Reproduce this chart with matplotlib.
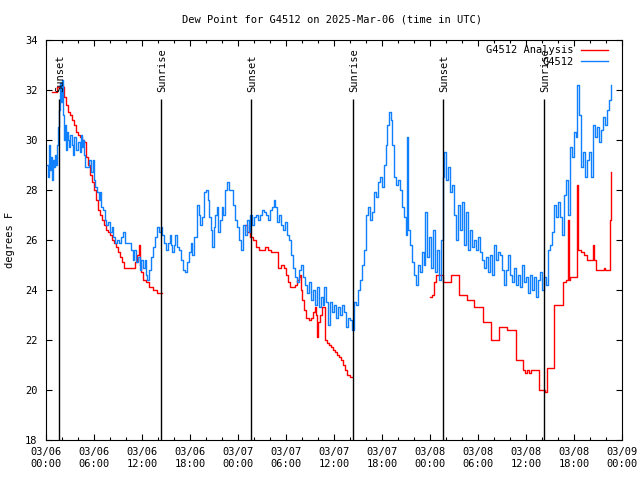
import numpy as np
import matplotlib
matplotlib.use('Agg')
import matplotlib.pyplot as plt
from matplotlib.ticker import FixedLocator, MultipleLocator

# station dew point (hours since 03/06 00:00 UTC, deg F)
blue_hours = [0.12, 0.25, 0.37, 0.5, 0.62, 0.75, 0.87, 1.0, 1.12, 1.25, 1.37, 1.5, 1.62, 1.75, 1.87, 2.0,
              2.12, 2.25, 2.37, 2.5, 2.62, 2.75, 2.87, 3.0, 3.25, 3.37, 3.5, 3.75, 4.0, 4.25, 4.37, 4.5,
              4.62, 4.75, 4.87, 5.12, 5.37, 5.62, 5.87, 6.0, 6.12, 6.37, 6.62, 6.75, 6.87, 7.12, 7.37, 7.5,
              7.75, 8.0, 8.25, 8.37, 8.62, 8.87, 9.12, 9.37, 9.62, 9.87, 10.12, 10.37, 10.62, 10.87, 11.0,
              11.25, 11.5, 11.75, 11.87, 12.12, 12.37, 12.5, 12.62, 12.87, 13.12, 13.37, 13.62, 13.87,
              14.12, 14.37, 14.5, 14.75, 15.0, 15.25, 15.5, 15.62, 15.75, 16.0, 16.12, 16.37, 16.62, 16.87,
              17.12, 17.37, 17.62, 17.87, 18.12, 18.25, 18.5, 18.75, 18.87, 19.12, 19.25, 19.5, 19.75, 20.0,
              20.25, 20.37, 20.62, 20.75, 21.0, 21.12, 21.37, 21.5, 21.75, 22.0, 22.12, 22.37, 22.62, 22.87,
              23.12, 23.37, 23.62, 23.87, 24.12, 24.37, 24.62, 24.87, 25.12, 25.37, 25.5, 25.75, 26.0, 26.25,
              26.5, 26.75, 27.0, 27.25, 27.5, 27.75, 28.0, 28.25, 28.5, 28.62, 28.87, 29.12, 29.37, 29.62,
              29.87, 30.12, 30.37, 30.62, 30.87, 31.12, 31.37, 31.62, 31.87, 32.12, 32.37, 32.62, 32.87,
              33.12, 33.37, 33.62, 33.87, 34.12, 34.37, 34.62, 34.75, 35.0, 35.25, 35.5, 35.75, 36.0, 36.25,
              36.5, 36.75, 37.0, 37.25, 37.5, 37.75, 38.0, 38.25, 38.5, 38.75, 39.0, 39.25, 39.5, 39.75,
              40.0, 40.25, 40.5, 40.75, 41.0, 41.25, 41.5, 41.75, 42.0, 42.25, 42.5, 42.62, 42.87, 43.12,
              43.25, 43.5, 43.75, 44.0, 44.25, 44.5, 44.75, 45.0, 45.12, 45.25, 45.5, 45.75, 46.0, 46.25,
              46.5, 46.75, 47.0, 47.25, 47.37, 47.62, 47.87, 48.12, 48.37, 48.62, 48.87, 49.12, 49.37, 49.62,
              49.75, 50.0, 50.25, 50.5, 50.75, 51.0, 51.25, 51.5, 51.75, 52.0, 52.25, 52.5, 52.75, 53.0,
              53.25, 53.5, 53.75, 54.0, 54.25, 54.5, 54.75, 55.0, 55.25, 55.5, 55.75, 56.0, 56.25, 56.5,
              56.75, 57.0, 57.25, 57.5, 57.75, 58.0, 58.25, 58.5, 58.75, 59.0, 59.25, 59.5, 59.75, 60.0,
              60.25, 60.5, 60.75, 61.0, 61.25, 61.5, 61.75, 62.0, 62.25, 62.5, 62.75, 63.0, 63.25, 63.5,
              63.75, 64.0, 64.25, 64.5, 64.75, 65.0, 65.25, 65.5, 65.75, 66.0, 66.25, 66.37, 66.62, 66.87,
              67.12, 67.37, 67.62, 67.87, 68.12, 68.37, 68.62, 68.87, 69.12, 69.37, 69.62, 69.87, 70.12,
              70.37, 70.62]
blue_vals = [29.0, 28.5, 29.8, 28.8, 29.3, 28.4, 29.2, 28.9, 29.4, 29.0, 29.8, 30.5, 31.2, 32.3, 31.5, 32.4,
             31.0, 30.0, 30.6, 29.6, 30.3, 30.0, 29.7, 30.2, 29.8, 29.4, 30.1, 29.6, 29.9, 29.5, 30.2, 29.7,
             30.0, 29.4, 28.9, 28.9, 29.2, 28.7, 29.2, 28.4, 28.1, 27.9, 27.6, 27.9, 27.3, 27.2, 26.8, 26.6,
             26.7, 26.3, 26.5, 26.1, 25.9, 26.0, 25.9, 26.1, 26.3, 25.9, 25.9, 25.9, 25.6, 25.2, 25.6,
             25.1, 25.3, 24.8, 25.2, 24.9, 25.2, 24.6, 24.4, 24.8, 25.3, 25.7, 26.1, 26.5,
             26.3, 26.5, 26.2, 25.9, 25.6, 25.9, 26.2, 25.8, 25.5, 25.8, 26.2, 25.7, 25.6, 25.2,
             24.8, 24.7, 25.1, 25.5, 25.9, 25.4, 26.1, 26.1, 27.4, 27.0, 26.6, 26.9, 27.9, 28.0,
             27.6, 26.9, 26.4, 25.7, 26.5, 27.0, 27.3, 26.3, 26.8, 27.3, 27.0, 28.0, 28.3, 28.0,
             28.0, 27.4, 26.8, 26.5, 26.0, 25.6, 26.6, 26.2, 26.8, 26.3, 27.0, 26.6, 26.9, 27.0,
             26.8, 27.0, 27.2, 27.1, 27.0, 26.8, 27.2, 27.3, 27.6, 27.3, 26.7, 27.0, 26.6, 26.4,
             26.7, 26.2, 26.0, 25.4, 24.9, 24.5, 24.3, 24.8, 25.0, 24.5, 24.2, 23.9, 24.3,
             23.6, 24.0, 23.4, 24.1, 23.3, 23.7, 23.4, 24.1, 23.5, 22.6, 23.5, 23.1, 23.4, 22.9,
             23.3, 23.0, 23.4, 23.1, 22.5, 22.9, 22.8, 22.4, 23.5, 23.4, 24.0, 24.4, 25.0, 25.6,
             27.0, 27.3, 26.8, 27.1, 27.9, 27.7, 28.3, 28.5, 28.1, 29.0, 29.8, 30.6, 31.1, 30.8,
             29.8, 28.5, 28.2, 28.4, 28.0, 27.3, 26.9, 26.2, 30.1, 26.4, 25.8, 25.1, 24.6, 24.2,
             25.0, 24.7, 25.5, 25.0, 27.1, 25.3, 26.1, 24.9, 26.4, 24.7, 25.6, 24.4, 26.0, 28.5,
             29.5, 28.4, 28.9, 27.9, 28.2, 27.0, 26.0, 27.4, 26.4, 27.5, 25.8, 27.1, 25.6, 26.4,
             25.7, 26.0, 25.6, 26.1, 25.5, 25.2, 24.9, 25.3, 24.7, 25.4, 24.6, 25.8, 25.2, 25.5,
             25.4, 24.8, 24.2, 24.8, 25.4, 24.6, 24.3, 24.9, 24.2, 24.6, 24.1, 25.0, 24.3, 24.5,
             23.9, 24.6, 24.0, 24.5, 23.7, 24.4, 24.7, 24.0, 24.5, 24.2, 25.6, 25.8, 26.3, 27.4,
             26.9, 27.5, 26.9, 26.2, 27.8, 28.4, 27.0, 29.7, 29.3, 30.3, 30.1, 32.2, 31.0, 28.9,
             29.5, 28.5, 29.2, 29.5, 28.5, 30.6, 30.1, 30.5, 29.9, 30.4, 30.9, 30.6, 31.2,
             31.6, 32.2]

# analysis dew point, nan = no data
red_hours = [0.75, 1.12, 1.37, 1.75, 2.12, 2.25, 2.5, 2.75, 3.0, 3.25, 3.5, 3.75, 4.0, 4.25, 4.5, 4.75,
             4.87, 5.0, 5.25, 5.5, 5.75, 6.0, 6.25, 6.5, 6.75, 7.0, 7.25, 7.5, 7.75, 8.0, 8.25, 8.5, 8.75,
             9.0, 9.25, 9.5, 9.75, 10.87, 11.12, 11.37, 11.62, 11.75, 11.87, 12.12, 12.5, 12.87, 13.37,
             13.87, 14.25, 14.5,
             24.87, 25.12, 25.5, 25.87, 26.25, 26.62, 27.0, 27.37, 27.75, 28.12, 28.75, 29.0, 29.37, 29.75,
             30.0, 30.25, 30.5, 30.87, 31.12, 31.37, 31.62, 31.75, 31.87, 32.0, 32.25, 32.5, 32.87, 33.12,
             33.37, 33.62, 33.75, 33.87, 34.0, 34.25, 34.5, 34.75, 34.87, 35.12, 35.37, 35.62, 35.87, 36.12,
             36.37, 36.62, 36.87, 37.12, 37.37, 37.62, 38.0, 38.25,
             48.0, 48.25, 48.5, 48.75, 49.62, 50.62, 51.62, 52.62, 53.5, 54.62, 55.62, 56.62, 57.62, 58.75,
             59.62, 59.87, 60.12, 60.37, 60.62, 61.62, 62.37, 62.62, 63.5, 64.62, 65.0, 65.25, 65.37, 65.5,
             66.25, 66.37, 66.5, 66.87, 67.25, 67.62, 68.37, 68.5, 68.75, 69.75, 69.87, 70.5, 70.62]
red_vals = [31.9, 31.9, 32.1, 32.2, 32.1, 31.7, 31.4, 31.1, 31.0, 30.8, 30.6, 30.3, 30.2, 30.1, 30.0, 29.9,
            29.9, 29.3, 29.0, 28.6, 28.3, 28.0, 27.6, 27.2, 27.0, 26.8, 26.6, 26.4, 26.3, 26.2, 26.0, 25.9, 25.7,
            25.5, 25.3, 25.1, 24.9, 24.9, 25.1, 25.4, 25.8, 25.0, 24.7, 24.4, 24.3, 24.1, 24.0,
            23.9, 23.9, np.nan,
            26.6, 26.3, 26.1, 26.0, 25.7, 25.6, 25.6, 25.7, 25.6, 25.5, 25.5, 24.9, 25.0, 24.9,
            24.6, 24.3, 24.1, 24.1, 24.2, 24.4, 24.5, 24.6, 24.0, 23.6, 23.2, 22.9, 22.8, 22.9,
            23.1, 23.3, 23.0, 22.1, 22.7, 23.0, 23.3, 23.3, 22.0, 21.9, 21.8, 21.7, 21.6, 21.5,
            21.4, 21.3, 21.2, 21.0, 20.8, 20.6, 20.5, np.nan,
            23.7, 23.8, 24.3, 24.6, 24.3, 24.6, 23.8, 23.6, 23.3, 22.7, 22.0, 22.5, 22.4, 21.2,
            20.8, 20.7, 20.8, 20.7, 20.8, 20.0, 19.9, 20.9, 23.4, 24.3, 24.4, 26.8, 24.4, 24.5,
            24.5, 28.2, 25.6, 25.5, 25.4, 25.2, 25.8, 25.2, 24.8, 24.9, 24.8, 26.8, 28.7]

sun_hours = [1.62, 14.37, 25.62, 38.37, 49.62, 62.25]
sun_labels = ['Sunset', 'Sunrise', 'Sunset', 'Sunrise', 'Sunset', 'Sunrise']

tick_hours = [0, 6, 12, 18, 24, 30, 36, 42, 48, 54, 60, 66, 72]
tick_labels = ['03/06\n00:00', '03/06\n06:00', '03/06\n12:00', '03/06\n18:00',
               '03/07\n00:00', '03/07\n06:00', '03/07\n12:00', '03/07\n18:00',
               '03/08\n00:00', '03/08\n06:00', '03/08\n12:00', '03/08\n18:00', '03/09\n00:00']

plt.rcParams['font.family'] = 'DejaVu Sans Mono'
plt.rcParams['font.size'] = 7.5

fig = plt.figure(figsize=(6.4, 4.8), dpi=100)
ax = fig.add_axes([46/640, 40/480, 576/640, 400/480])

ax.plot(red_hours, red_vals, color='#ff0000', lw=1.0, drawstyle='steps-post', label='G4512 Analysis')
ax.plot(blue_hours, blue_vals, color='#1080ff', lw=1.0, drawstyle='steps-post', label='G4512')

for h, lab in zip(sun_hours, sun_labels):
    ax.vlines(h, 18, 31.64, color='black', lw=1.0)
    ax.text(h + 0.15, 31.9, lab, rotation=90, ha='center', va='bottom', fontsize=7.5)

ax.set_xlim(0, 72)
ax.set_ylim(18, 34)
ax.xaxis.set_major_locator(FixedLocator(tick_hours))
ax.set_xticklabels(tick_labels)
ax.xaxis.set_minor_locator(MultipleLocator(2))
ax.yaxis.set_major_locator(MultipleLocator(2))
ax.tick_params(which='both', direction='in', top=True, right=True)
ax.tick_params(which='major', length=4.5, width=0.8, pad=5)
ax.tick_params(which='minor', length=2.5, width=0.8)
ax.tick_params(axis='y', pad=6)
for s in ax.spines.values():
    s.set_linewidth(0.8)

ax.legend(loc='upper right', bbox_to_anchor=(0.985, 1.0), frameon=False, markerfirst=False,
          handlelength=2.6, handletextpad=0.7, labelspacing=0.15, borderaxespad=0.1, fontsize=7.5)

fig.text(332/640, 1 - 19/480, 'Dew Point for G4512 on 2025-Mar-06 (time in UTC)', ha='center', va='center')
fig.text(10/640, 0.5, 'degrees F', rotation=90, ha='center', va='center')

fig.savefig('out.png', dpi=100)
